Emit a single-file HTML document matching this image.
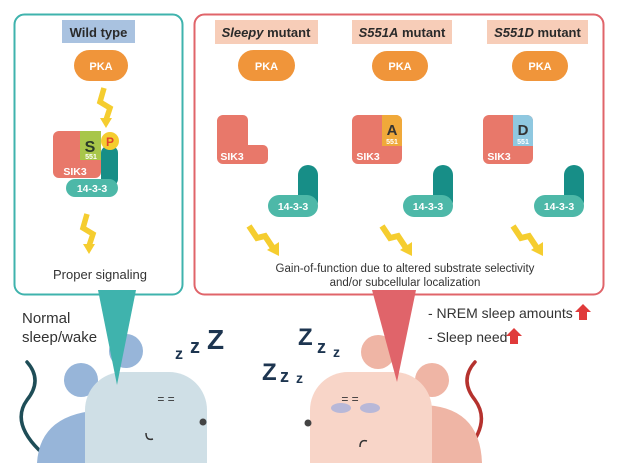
<!DOCTYPE html><html><head><meta charset="utf-8"><style>
html,body{margin:0;background:#fff;width:618px;height:463px;overflow:hidden}svg{display:block;overflow:hidden}
text{font-family:"Liberation Sans",sans-serif}
</style></head><body>
<svg width="618" height="463" viewBox="0 0 618 463" xmlns="http://www.w3.org/2000/svg">
<defs>
<g id="bolt"><path d="M4,0 L0,14 L10,20 L6,32" stroke="#f5cd2f" stroke-width="5.5" fill="none" stroke-linejoin="miter"/><path d="M0,30 L12,30 L6,40z" fill="#f5cd2f"/></g>
<g id="dbolt"><path d="M0,2 L8,14 L16,12 L24,24" stroke="#f5cd2f" stroke-width="6" fill="none"/><path d="M18,26 L30,18 L30,32z" fill="#f5cd2f"/></g>
</defs>
<rect x="14.5" y="14.5" width="168" height="280" rx="10" fill="#fff" stroke="#3fb3ad" stroke-width="2"/>
<rect x="62" y="20" width="73" height="23" fill="#a9c2e0"/>
<text x="98.5" y="37" font-size="13" font-weight="bold" fill="#2a2a2a" text-anchor="middle">Wild type</text>
<rect x="74" y="50" width="54" height="31" rx="15.5" fill="#f0953a"/>
<text x="101" y="70" font-size="11" font-weight="bold" fill="#fff" text-anchor="middle">PKA</text>
<use href="#bolt" x="100" y="88"/>
<rect x="101" y="146" width="17" height="40" rx="7" fill="#178e87"/>
<rect x="66" y="179" width="52" height="18" rx="9" fill="#4db8a8"/>
<text x="92" y="192" font-size="10.5" font-weight="bold" fill="#fff" text-anchor="middle">14-3-3</text>
<rect x="53" y="131" width="48" height="47" rx="6" fill="#e8786a"/>
<rect x="80" y="131" width="21" height="29" fill="#a8c64a"/>
<text x="90" y="152" font-size="16" font-weight="bold" fill="#2a3a2a" text-anchor="middle">S</text>
<text x="91" y="159" font-size="7" font-weight="bold" fill="#fff" text-anchor="middle">551</text>
<text x="75" y="175" font-size="10.5" font-weight="bold" fill="#fff" text-anchor="middle">SIK3</text>
<circle cx="110" cy="141" r="9" fill="#f5cd2f"/>
<text x="110" y="146" font-size="12" font-weight="bold" fill="#e0442a" text-anchor="middle">P</text>
<use href="#bolt" x="83" y="214"/>
<text x="100" y="279" font-size="13" fill="#333" text-anchor="middle">Proper signaling</text>
<rect x="194.5" y="14.5" width="409" height="280" rx="10" fill="#fff" stroke="#e0646a" stroke-width="2"/>
<rect x="215" y="20" width="103" height="24" fill="#f7cdb8"/>
<text x="266" y="37" font-size="13" font-weight="bold" fill="#2a2a2a" text-anchor="middle"><tspan font-style="italic">Sleepy</tspan> mutant</text>
<rect x="352" y="20" width="100" height="24" fill="#f7cdb8"/>
<text x="402" y="37" font-size="13" font-weight="bold" fill="#2a2a2a" text-anchor="middle"><tspan font-style="italic">S551A</tspan> mutant</text>
<rect x="487" y="20" width="101" height="24" fill="#f7cdb8"/>
<text x="537.5" y="37" font-size="13" font-weight="bold" fill="#2a2a2a" text-anchor="middle"><tspan font-style="italic">S551D</tspan> mutant</text>
<rect x="238" y="50" width="57" height="31" rx="15.5" fill="#f0953a"/>
<text x="266.5" y="70" font-size="11" font-weight="bold" fill="#fff" text-anchor="middle">PKA</text>
<rect x="372" y="51" width="56" height="30" rx="15" fill="#f0953a"/>
<text x="400" y="70" font-size="11" font-weight="bold" fill="#fff" text-anchor="middle">PKA</text>
<rect x="512" y="51" width="56" height="30" rx="15" fill="#f0953a"/>
<text x="540" y="70" font-size="11" font-weight="bold" fill="#fff" text-anchor="middle">PKA</text>
<path d="M223,115 h20 a5,5 0 0 1 5,5 v25 h15 a5,5 0 0 1 5,5 v9 a5,5 0 0 1 -5,5 h-40 a6,6 0 0 1 -6,-6 v-37 a6,6 0 0 1 6,-6z" fill="#e8786a"/>
<text x="232" y="160" font-size="10.5" font-weight="bold" fill="#fff" text-anchor="middle">SIK3</text>
<rect x="352" y="115" width="50" height="49" rx="6" fill="#e8786a"/>
<path d="M382,115 h14 a6,6 0 0 1 6,6 v25 h-20z" fill="#f0a93a"/>
<text x="392" y="135" font-size="15" font-weight="bold" fill="#333" text-anchor="middle">A</text>
<text x="392" y="144" font-size="7" font-weight="bold" fill="#fff" text-anchor="middle">551</text>
<text x="368" y="160" font-size="10.5" font-weight="bold" fill="#fff" text-anchor="middle">SIK3</text>
<rect x="483" y="115" width="50" height="49" rx="6" fill="#e8786a"/>
<path d="M513,115 h14 a6,6 0 0 1 6,6 v25 h-20z" fill="#8fc8e0"/>
<text x="523" y="135" font-size="15" font-weight="bold" fill="#333" text-anchor="middle">D</text>
<text x="523" y="144" font-size="7" font-weight="bold" fill="#fff" text-anchor="middle">551</text>
<text x="499" y="160" font-size="10.5" font-weight="bold" fill="#fff" text-anchor="middle">SIK3</text>
<g>
<rect x="298" y="165" width="20" height="46" rx="10" fill="#178e87"/>
<rect x="268" y="195" width="50" height="22" rx="11" fill="#4db8a8"/>
<text x="293" y="210" font-size="10.5" font-weight="bold" fill="#fff" text-anchor="middle">14-3-3</text>
</g>
<g transform="translate(135,0)">
<rect x="298" y="165" width="20" height="46" rx="10" fill="#178e87"/>
<rect x="268" y="195" width="50" height="22" rx="11" fill="#4db8a8"/>
<text x="293" y="210" font-size="10.5" font-weight="bold" fill="#fff" text-anchor="middle">14-3-3</text>
</g>
<g transform="translate(266,0)">
<rect x="298" y="165" width="20" height="46" rx="10" fill="#178e87"/>
<rect x="268" y="195" width="50" height="22" rx="11" fill="#4db8a8"/>
<text x="293" y="210" font-size="10.5" font-weight="bold" fill="#fff" text-anchor="middle">14-3-3</text>
</g>
<use href="#dbolt" x="249" y="224"/>
<use href="#dbolt" x="382" y="224"/>
<use href="#dbolt" x="513" y="224"/>
<text x="405" y="272" font-size="11.5" fill="#333" text-anchor="middle">Gain-of-function due to altered substrate selectivity</text>
<text x="405" y="286" font-size="11.5" fill="#333" text-anchor="middle">and/or subcellular localization</text>
<text x="22" y="323" font-size="15" fill="#333">Normal</text>
<text x="22" y="342" font-size="15" fill="#333">sleep/wake</text>
<path d="M27,362 q16,18 0,38 q-16,22 12,50" stroke="#1e4d57" stroke-width="3.5" fill="none" stroke-linecap="round"/>
<path d="M37,463 Q40,412 105,410 Q170,412 173,463 Z" fill="#97b5d9"/>
<circle cx="81" cy="380" r="17" fill="#97b5d9"/>
<circle cx="126" cy="351" r="17" fill="#97b5d9"/>
<path d="M85,463 V410 a38,38 0 0 1 38,-38 h46 a38,38 0 0 1 38,38 V463 Z" fill="#cfdfe6"/>
<path d="M98,290 L136,290 L117,385 Z" fill="#3fb3ad"/>
<text x="166" y="403" font-size="12" fill="#333" text-anchor="middle">= =</text>
<circle cx="203" cy="422" r="3.5" fill="#444"/>
<path d="M146,433 q0,8 7,6" stroke="#333" stroke-width="1.5" fill="none"/>
<text x="175" y="359" font-size="16" font-weight="bold" fill="#1d3550">z</text>
<text x="190" y="353" font-size="20" font-weight="bold" fill="#1d3550">z</text>
<text x="207" y="349" font-size="28" font-weight="bold" fill="#1d3550">Z</text>
<text x="298" y="345" font-size="24" font-weight="bold" fill="#1d3550">Z</text>
<text x="317" y="353" font-size="18" font-weight="bold" fill="#1d3550">z</text>
<text x="333" y="357" font-size="14" font-weight="bold" fill="#1d3550">z</text>
<text x="262" y="380" font-size="24" font-weight="bold" fill="#1d3550">Z</text>
<text x="280" y="382" font-size="18" font-weight="bold" fill="#1d3550">z</text>
<text x="296" y="383" font-size="14" font-weight="bold" fill="#1d3550">z</text>
<path d="M475,362 q-16,18 0,38 q16,22 -8,50" stroke="#b5322e" stroke-width="3.5" fill="none" stroke-linecap="round"/>
<path d="M358,463 Q360,405 420,405 Q480,405 482,463 Z" fill="#efb5a5"/>
<circle cx="432" cy="380" r="17" fill="#efb5a5"/>
<circle cx="378" cy="352" r="17" fill="#efb5a5"/>
<path d="M310,463 V410 a38,38 0 0 1 38,-38 h46 a38,38 0 0 1 38,38 V463 Z" fill="#f8d5c8"/>
<path d="M372,290 L416,290 L397,382 Z" fill="#e0646a"/>
<ellipse cx="341" cy="408" rx="10" ry="5" fill="#b8b8d8"/>
<ellipse cx="370" cy="408" rx="10" ry="5" fill="#b8b8d8"/>
<text x="350" y="403" font-size="12" fill="#333" text-anchor="middle">= =</text>
<circle cx="308" cy="423" r="3.5" fill="#444"/>
<path d="M360,447 q0,-8 7,-6" stroke="#333" stroke-width="1.5" fill="none"/>
<text x="428" y="318" font-size="14" fill="#333">- NREM sleep amounts</text>
<path d="M583,304 l8,8 h-4 v8 h-8 v-8 h-4z" fill="#e03a3a"/>
<text x="428" y="342" font-size="14" fill="#333">- Sleep need</text>
<path d="M514,328 l8,8 h-4 v8 h-8 v-8 h-4z" fill="#e03a3a"/>
</svg>
</body></html>
